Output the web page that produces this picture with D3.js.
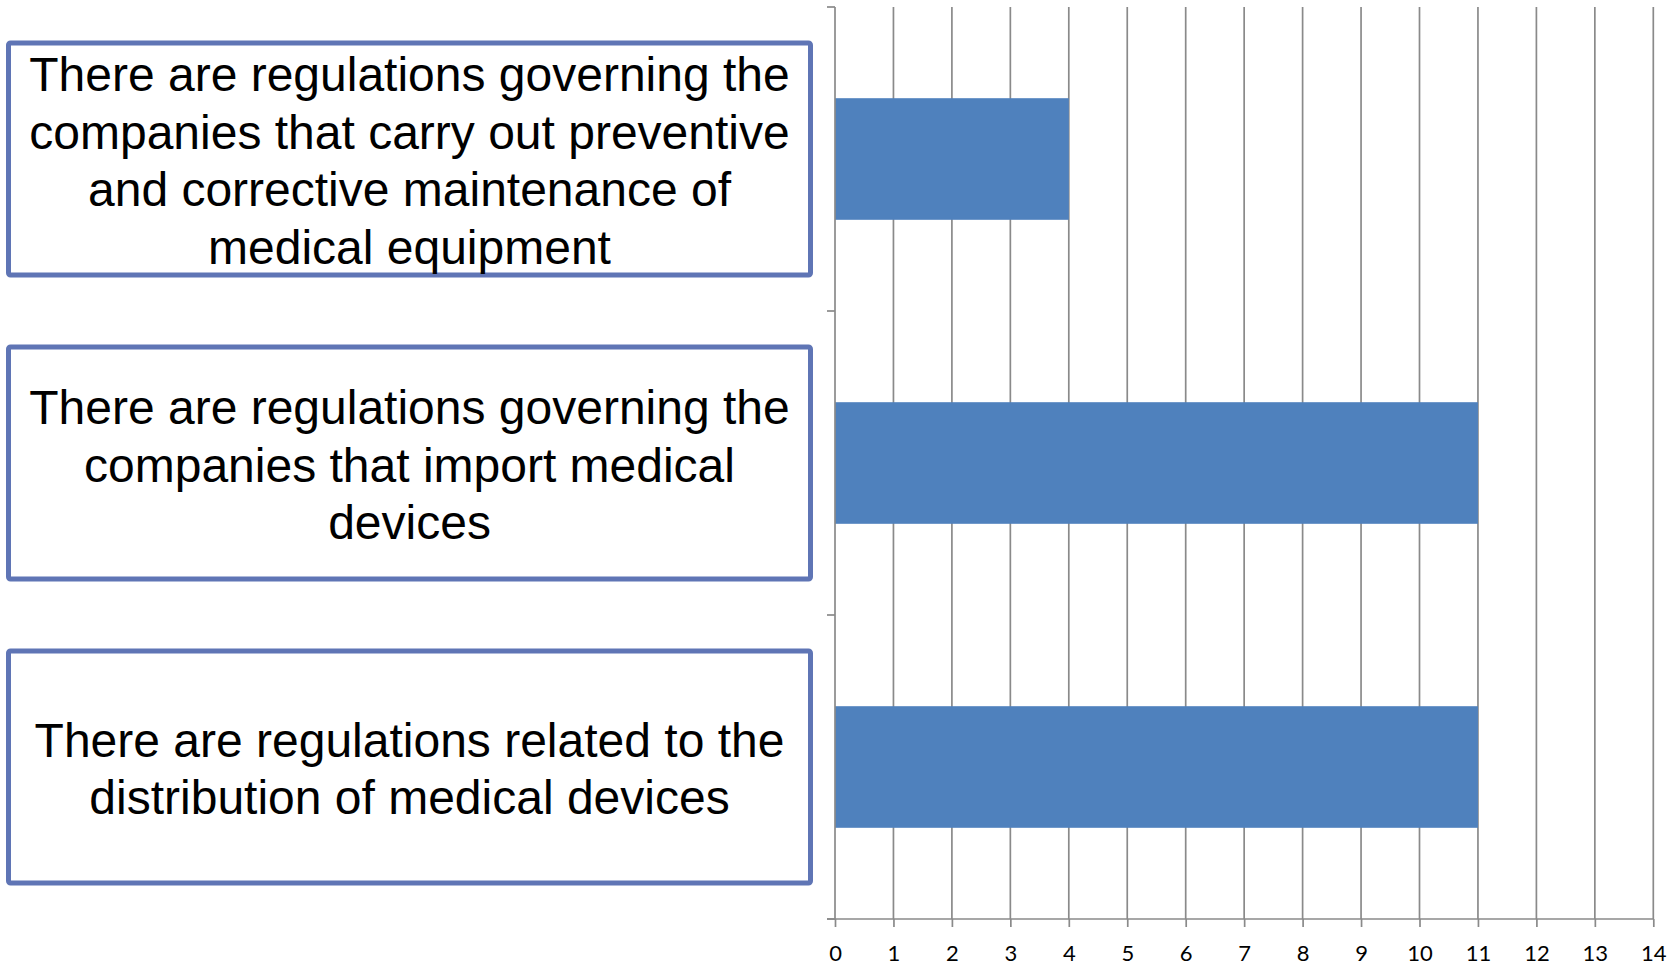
<!DOCTYPE html>
<html>
<head>
<meta charset="utf-8">
<script src="https://cdn.jsdelivr.net/npm/d3@7"></script>
<style>
  html, body { margin: 0; padding: 0; background: #fff; }
</style>
</head>
<body>
<div id="chart"></div>
<script>
// Data
const categories = [
    "There are regulations governing the companies that carry out preventive and corrective maintenance of medical equipment",
    "There are regulations governing the companies that import medical devices",
    "There are regulations related to the distribution of medical devices"
];
const labelLines = [
    ["There are regulations governing the", "companies that carry out preventive", "and corrective maintenance of", "medical equipment"],
    ["There are regulations governing the", "companies that import medical", "devices"],
    ["There are regulations related to the", "distribution of medical devices"]
];
const values = [4, 11, 11];
const xTicks = d3.range(0, 15);

const W = 1675, H = 965;
const plot = {left: 835, right: 1653.3, top: 7, bottom: 919};

const svg = d3.select("#chart")
    .append("svg")
    .attr("width", W)
    .attr("height", H);

// Scales
const x = d3.scaleLinear().domain([0, 14]).range([plot.left, plot.right]);
const y = d3.scaleBand().domain(categories).range([plot.top, plot.bottom]);
const gray = "#8a8a8a";

// Vertical grid lines
svg.selectAll("line.grid")
    .data(xTicks.slice(1))
    .enter()
    .append("line")
    .attr("class", "grid")
    .attr("x1", d => x(d))
    .attr("x2", d => x(d))
    .attr("y1", plot.top)
    .attr("y2", plot.bottom)
    .attr("stroke", gray)
    .attr("stroke-width", 1.7);

// Bars
const barH = y.bandwidth() * 0.4;
svg.selectAll("rect.bar")
    .data(categories)
    .enter()
    .append("rect")
    .attr("class", "bar")
    .attr("x", x(0))
    .attr("y", d => y(d) + (y.bandwidth() - barH) / 2)
    .attr("width", (d, i) => x(values[i]) - x(0))
    .attr("height", barH)
    .attr("fill", "#4f81bd");

// X axis
const xAxis = svg.append("g")
    .attr("transform", `translate(0,${plot.bottom})`)
    .call(d3.axisBottom(x).tickValues(xTicks).tickSize(8).tickPadding(18).tickSizeOuter(0));
xAxis.select(".domain").remove();
xAxis.append("line")
    .attr("x1", plot.left - 8).attr("x2", plot.right)
    .attr("stroke", gray).attr("stroke-width", 1.7);
xAxis.selectAll(".tick line").attr("stroke", gray).attr("stroke-width", 1.7);
xAxis.selectAll(".tick text")
    .attr("fill", "#000")
    .style("font-family", "Lato, 'Open Sans', sans-serif")
    .style("font-size", "22px");

// Y axis line with category boundary ticks
const yEdges = categories.map(c => y(c)).concat([plot.bottom]);
svg.append("line")
    .attr("x1", plot.left).attr("x2", plot.left)
    .attr("y1", plot.top).attr("y2", plot.bottom)
    .attr("stroke", gray).attr("stroke-width", 1.7);
svg.selectAll("line.ytick")
    .data(yEdges)
    .enter()
    .append("line")
    .attr("class", "ytick")
    .attr("x1", plot.left - 8).attr("x2", plot.left)
    .attr("y1", d => d).attr("y2", d => d)
    .attr("stroke", gray).attr("stroke-width", 1.7);

// Label boxes
const boxH = 232, fontSize = 48, lineH = 57.7;
const boxes = svg.selectAll("g.box")
    .data(categories)
    .enter()
    .append("g")
    .attr("class", "box")
    .attr("transform", d => `translate(0,${y(d) + y.bandwidth() / 2})`);

boxes.append("rect")
    .attr("x", 8.5)
    .attr("y", -boxH / 2)
    .attr("width", 802)
    .attr("height", boxH)
    .attr("rx", 2)
    .attr("fill", "#fff")
    .attr("stroke", "#5f75b5")
    .attr("stroke-width", 5);

boxes.append("text")
    .attr("text-anchor", "middle")
    .style("font-family", "'Liberation Sans', Arial, sans-serif")
    .style("font-size", fontSize + "px")
    .attr("fill", "#000")
    .selectAll("tspan")
    .data((d, i) => labelLines[i].map((t, j, arr) => ({t, j, n: arr.length})))
    .enter()
    .append("tspan")
    .attr("x", 409.5)
    .attr("y", d => (d.j - (d.n - 1) / 2) * lineH + 18.5)
    .text(d => d.t);
</script>
</body>
</html>
